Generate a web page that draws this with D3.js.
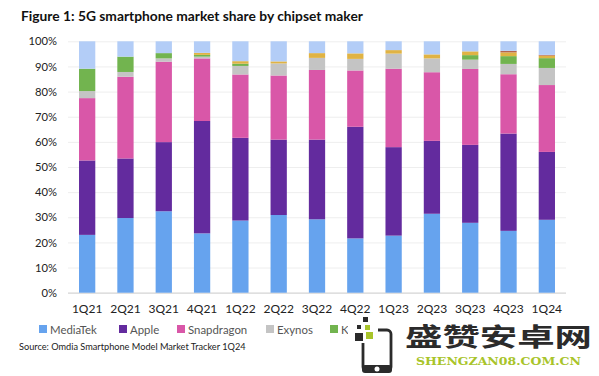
<!DOCTYPE html>
<html>
<head>
<meta charset="utf-8">
<script src="https://cdn.jsdelivr.net/npm/d3@7"></script>
<style>
  body { margin: 0; background: #fff; }
  svg { display: block; font-family: Lato, sans-serif; }
</style>
</head>
<body>
<div id="chart"></div>
<script>
/* 5G smartphone share by chipset maker, stacked bars */

const quarters = ["1Q21","2Q21","3Q21","4Q21","1Q22","2Q22","3Q22","4Q22","1Q23","2Q23","3Q23","4Q23","1Q24"];

// percent of each quarter
const mediaTek   = [23.0, 29.7, 32.4, 23.6, 28.7, 30.9, 29.2, 21.6, 22.7, 31.4, 27.8, 24.6, 29.0];
const apple      = [29.6, 23.7, 27.5, 44.7, 32.9, 30.0, 31.7, 44.4, 35.2, 29.0, 31.0, 38.7, 27.0];
const snapdragon = [24.8, 32.5, 32.0, 24.9, 25.2, 25.5, 27.7, 22.4, 31.2, 27.3, 30.2, 23.6, 26.6];
const exynos     = [ 2.8,  1.9,  1.3,  0.7,  3.4,  4.8,  4.8,  4.6,  6.0,  5.5,  3.7,  4.1,  6.8];
const kirin      = [ 8.9,  6.1,  2.1,  0.7,  0.9,  0.0,  0.0,  0.0,  0.0,  0.0,  1.8,  3.1,  3.9];
const yellow     = [ 0.0,  0.0,  0.0,  0.8,  1.0,  0.8,  1.9,  2.2,  1.4,  1.6,  1.5,  1.5,  1.0];
const red        = [ 0.0,  0.0,  0.0,  0.0,  0.0,  0.0,  0.0,  0.0,  0.0,  0.0,  0.0,  0.6,  0.3];
const lightBlue  = [10.9,  6.1,  4.7,  4.6,  7.9,  8.0,  4.7,  4.8,  3.5,  5.2,  4.0,  3.8,  5.4];

const seriesNames = ["MediaTek","Apple","Snapdragon","Exynos","Kirin","Yellow","Red","LightBlue"];
const seriesValues = [mediaTek, apple, snapdragon, exynos, kirin, yellow, red, lightBlue];
const seriesColors = ["#66a3ee","#632b9e","#d957a8","#c4c4c4","#72b44f","#e0b344","#b5654d","#b3cdf7"];
const legendNames = ["MediaTek","Apple","Snapdragon","Exynos","Kirin"];
const yTicks = [0,10,20,30,40,50,60,70,80,90,100];

const width = 599,
      height = 376,
      margin = ({ top: 41.3, right: 33, bottom: 83.3, left: 68 });

const rows = quarters.map((q, i) => {
    const row = { quarter: q };
    seriesNames.forEach((name, s) => row[name] = seriesValues[s][i]);
    return row;
});

const color = d3.scaleOrdinal().domain(seriesNames).range(seriesColors);

const svg = d3.select("#chart")
    .append("svg")
    .attr("width", width)
    .attr("height", height);

const x = d3.scaleBand()
    .domain(quarters)
    .range([margin.left, width - margin.right])
    .paddingInner(0.575)
    .paddingOuter(0.2875);

const y = d3.scaleLinear()
    .domain([0, 100])
    .range([height - margin.bottom, margin.top]);

/* title */
svg.append("text")
    .attr("x", 21)
    .attr("y", 20.5)
    .attr("font-size", 13.8)
    .attr("font-weight", 700)
    .attr("fill", "#111")
    .text("Figure 1: 5G smartphone market share by chipset maker");

/* y axis with the gridlines */
svg.append("g")
    .attr("transform", `translate(${margin.left}, 0)`)
    .call(d3.axisLeft(y).tickValues(yTicks).tickFormat(d => d + "%")
        .tickSize(-(width - margin.left - margin.right)).tickPadding(11))
    .call(g => g.select(".domain").remove())
    .call(g => g.selectAll(".tick line").attr("stroke", d => d === 0 ? "#d4d4d4" : "#eeeeee").attr("stroke-width", d => d === 0 ? 1.2 : 1))
    .call(g => g.selectAll(".tick text").attr("font-size", 11.2).attr("font-family", "Lato, sans-serif").attr("fill", "#222"));

/* the bars */
const stacked = d3.stack().keys(seriesNames)(rows);

svg.selectAll(".series")
    .data(stacked)
    .join("g")
    .attr("class", "series")
    .attr("fill", d => color(d.key))
    .selectAll("rect")
    .data(d => d)
    .join("rect")
    .attr("x", d => x(d.data.quarter))
    .attr("width", x.bandwidth())
    .attr("y", d => y(d[1]))
    .attr("height", d => y(d[0]) - y(d[1]));

/* x axis */
svg.append("g")
    .attr("transform", `translate(0, ${height - margin.bottom})`)
    .call(d3.axisBottom(x).tickSize(0).tickPadding(12))
    .call(g => g.select(".domain").remove())
    .call(g => g.selectAll(".tick text").attr("font-size", 12).attr("font-family", "Lato, sans-serif").attr("fill", "#222"));

/* legend */
const legendX = d3.scaleOrdinal().domain(legendNames).range([39, 119, 177, 266, 330]);

const legend = svg.selectAll(".legend")
    .data(legendNames)
    .join("g")
    .attr("class", "legend")
    .attr("transform", d => `translate(${legendX(d)}, 325)`);

legend.append("rect")
    .attr("width", 8)
    .attr("height", 8)
    .attr("fill", d => color(d));

legend.append("text")
    .attr("x", 11)
    .attr("y", 8.5)
    .attr("font-size", 11.4)
    .attr("fill", "#555")
    .text(d => d);

/* source */
svg.append("text")
    .attr("x", 19)
    .attr("y", 350)
    .attr("font-size", 9.2)
    .attr("fill", "#222")
    .text("Source: Omdia Smartphone Model Market Tracker 1Q24");

/* site mark over the corner */
const mark = svg.append("g");

mark.append("rect").attr("x", 348).attr("y", 319).attr("width", 251).attr("height", 57).attr("fill", "#fff");
mark.append("rect").attr("x", 363).attr("y", 317).attr("width", 5).attr("height", 5).attr("fill", "#2b2b2b");
mark.append("rect").attr("x", 357).attr("y", 325).attr("width", 4).attr("height", 4).attr("fill", "#2b2b2b");
mark.append("rect").attr("x", 365).attr("y", 325).attr("width", 5).attr("height", 5).attr("fill", "#a8c42a");
mark.append("rect").attr("x", 355).attr("y", 333).attr("width", 8).attr("height", 8).attr("fill", "#2b2b2b");
mark.append("rect").attr("x", 366).attr("y", 332).attr("width", 7).attr("height", 7).attr("fill", "#a8c42a");
mark.append("path")
    .attr("d", "M378 330h9a4 4 0 0 1 4 4v33a4 4 0 0 1-4 4h-20a4 4 0 0 1-4-4v-24")
    .attr("fill", "none")
    .attr("stroke", "#2b2b2b")
    .attr("stroke-width", 2.8);
mark.append("rect").attr("x", 362).attr("y", 365).attr("width", 30).attr("height", 8).attr("rx", 3).attr("fill", "#2b2b2b");
mark.append("circle").attr("cx", 377).attr("cy", 369).attr("r", 2.5).attr("fill", "#fff");

mark.append("text")
    .attr("x", 405)
    .attr("y", 346)
    .attr("font-family", "'Noto Sans CJK SC'")
    .attr("font-weight", 700)
    .attr("font-size", 25.5)
    .attr("textLength", 187)
    .attr("lengthAdjust", "spacingAndGlyphs")
    .attr("fill", "#2b2b2b")
    .text("盛赞安卓网");

mark.append("text")
    .attr("x", 416)
    .attr("y", 365)
    .attr("font-family", "'DejaVu Serif'")
    .attr("font-weight", 700)
    .attr("font-size", 10.5)
    .attr("textLength", 165)
    .attr("lengthAdjust", "spacingAndGlyphs")
    .attr("fill", "#a8c42a")
    .text("SHENGZAN08.COM.CN");
</script>
</body>
</html>
